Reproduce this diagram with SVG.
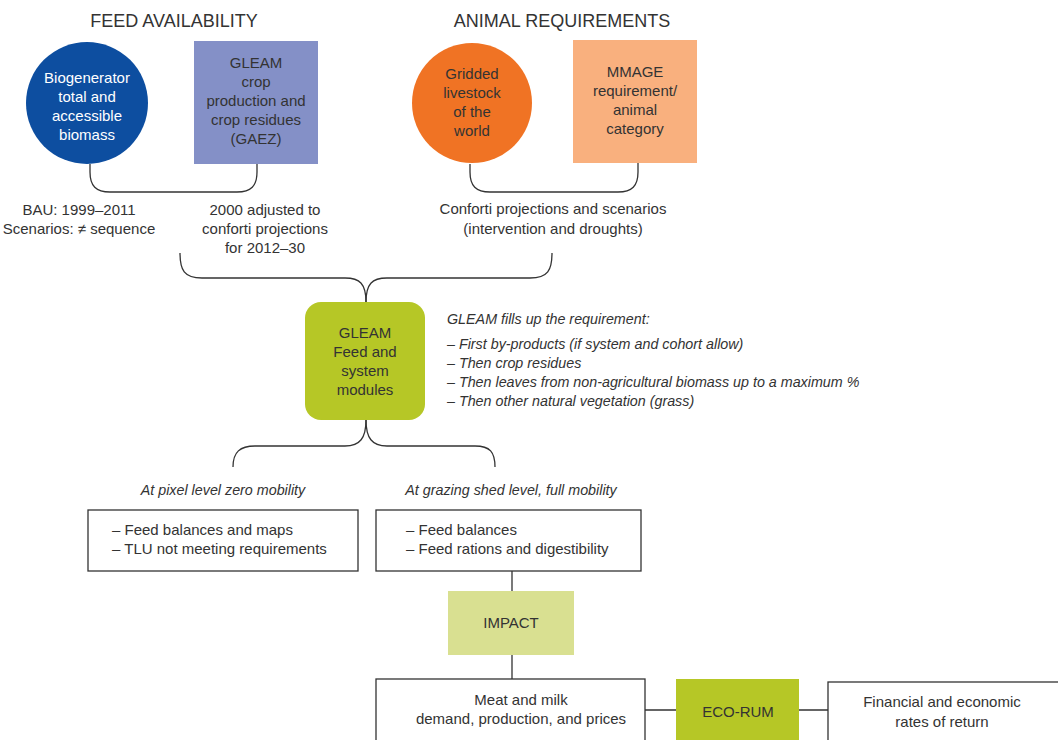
<svg xmlns="http://www.w3.org/2000/svg" width="1058" height="740" viewBox="0 0 1058 740">
<style>
text{font-family:"Liberation Sans",Arial,sans-serif;font-size:15px;fill:#333333}
.t{font-size:18px}
.c{text-anchor:middle}
.w{fill:#ffffff}
.i{font-style:italic;font-size:14.3px}
.ln{fill:none;stroke:#333333;stroke-width:1.3}
.bx{fill:#ffffff;stroke:#333333;stroke-width:1.3}
</style>
<rect width="1058" height="740" fill="#ffffff"/>
<text class="t c" x="174" y="27">FEED AVAILABILITY</text>
<text class="t c" x="562" y="27">ANIMAL REQUIREMENTS</text>
<g id="connectors">
<path class="ln" d="M90,164 L90,172 C90,186 96,192 110,192 L237,192 C251,192 257,186 257,172 L257,164"/>
<path class="ln" d="M470,164 L470,172 C470,186 476,192 490,192 L618,192 C632,192 638,186 638,172 L638,163"/>
<path class="ln" d="M180,253 C180,270 184,278 202,278 L345,278 C360,278 366,284 366,302"/>
<path class="ln" d="M552,253 C552,270 548,278 530,278 L387,278 C372,278 366,284 366,302"/>
<path class="ln" d="M366,420 C366,438 360,446 345,446 L255,446 C240,446 233,452 233,467"/>
<path class="ln" d="M366,420 C366,438 372,446 387,446 L475,446 C490,446 495,452 495,467"/>
<path class="ln" d="M512,571 L512,591 M512,655 L512,679 M645,710 L676,710 M799,710 L828,710"/>
</g>
<g id="biogenerator">
<circle cx="87" cy="103" r="61" fill="#0D4EA0"/>
<text class="c w" x="87" y="83">Biogenerator</text>
<text class="c w" x="87" y="102">total and</text>
<text class="c w" x="87" y="121">accessible</text>
<text class="c w" x="87" y="140">biomass</text>
</g>
<g id="gleam-crop">
<rect x="194" y="41" width="124" height="123" fill="#8490C7"/>
<text class="c" x="256" y="68">GLEAM</text>
<text class="c" x="256" y="87">crop</text>
<text class="c" x="256" y="106">production and</text>
<text class="c" x="256" y="125">crop residues</text>
<text class="c" x="256" y="144">(GAEZ)</text>
</g>
<g id="gridded">
<circle cx="472" cy="103" r="60" fill="#F07324"/>
<text class="c" x="472" y="79">Gridded</text>
<text class="c" x="472" y="98">livestock</text>
<text class="c" x="472" y="117">of the</text>
<text class="c" x="472" y="136">world</text>
</g>
<g id="mmage">
<rect x="573" y="40" width="124" height="123" fill="#F9B07E"/>
<text class="c" x="635" y="77">MMAGE</text>
<text class="c" x="635" y="96">requirement/</text>
<text class="c" x="635" y="115">animal</text>
<text class="c" x="635" y="134">category</text>
</g>
<g id="labels-top">
<text class="c" x="79" y="215">BAU: 1999–2011</text>
<text class="c" x="79" y="234">Scenarios: ≠ sequence</text>
<text class="c" x="265" y="215">2000 adjusted to</text>
<text class="c" x="265" y="234">conforti projections</text>
<text class="c" x="265" y="253">for 2012–30</text>
<text class="c" x="553" y="214">Conforti projections and scenarios</text>
<text class="c" x="553" y="234">(intervention and droughts)</text>
</g>
<g id="gleam-feed">
<rect x="305" y="302" width="120" height="118" rx="16" fill="#B6C726"/>
<text class="c" x="365" y="338">GLEAM</text>
<text class="c" x="365" y="357">Feed and</text>
<text class="c" x="365" y="376">system</text>
<text class="c" x="365" y="395">modules</text>
</g>
<g id="gleam-notes">
<text class="i" x="447" y="324">GLEAM fills up the requirement:</text>
<text class="i" x="447" y="349">– First by-products (if system and cohort allow)</text>
<text class="i" x="447" y="368">– Then crop residues</text>
<text class="i" x="447" y="387">– Then leaves from non-agricultural biomass up to a maximum %</text>
<text class="i" x="447" y="406">– Then other natural vegetation (grass)</text>
</g>
<g id="pixel-level">
<text class="i c" x="223" y="495">At pixel level zero mobility</text>
<rect class="bx" x="88" y="510" width="270" height="61"/>
<text x="112" y="535">– Feed balances and maps</text>
<text x="112" y="554">– TLU not meeting requirements</text>
</g>
<g id="grazing-shed">
<text class="i c" x="511" y="495">At grazing shed level, full mobility</text>
<rect class="bx" x="376" y="510" width="265" height="61"/>
<text x="406" y="535">– Feed balances</text>
<text x="406" y="554">– Feed rations and digestibility</text>
</g>
<g id="impact">
<rect x="448" y="591" width="126" height="64" fill="#D9E091"/>
<text class="c" x="511" y="628">IMPACT</text>
</g>
<g id="meat-milk">
<rect class="bx" x="376" y="679" width="269" height="70"/>
<text class="c" x="521" y="705">Meat and milk</text>
<text class="c" x="521" y="724">demand, production, and prices</text>
</g>
<g id="eco-rum">
<rect x="676" y="679" width="123" height="70" fill="#B6C726"/>
<text class="c" x="738" y="717">ECO-RUM</text>
</g>
<g id="returns">
<rect class="bx" x="828" y="682" width="240" height="70"/>
<text class="c" x="942" y="707">Financial and economic</text>
<text class="c" x="942" y="727">rates of return</text>
</g>
</svg>
